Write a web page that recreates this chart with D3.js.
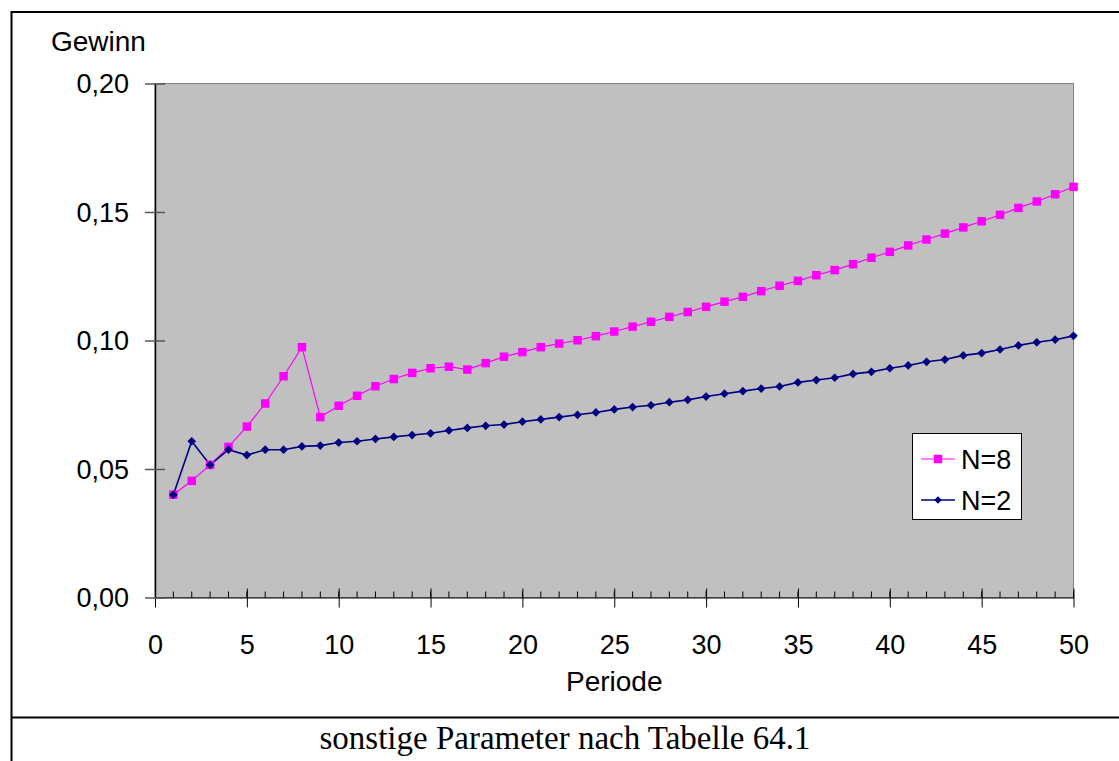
<!DOCTYPE html>
<html>
<head>
<meta charset="utf-8">
<script src="https://cdn.jsdelivr.net/npm/d3@7"></script>
<style>
  html, body { margin: 0; padding: 0; background: #fff; }
  svg { display: block; }
  .lbl { font-family: "Liberation Sans", Arial, sans-serif; font-size: 27px; fill: #000; }
  .ttl { font-family: "Liberation Sans", Arial, sans-serif; font-size: 28px; fill: #000; }
  .cap { font-family: "Liberation Serif", "Times New Roman", serif; font-size: 33px; fill: #000; }
</style>
</head>
<body>
<svg id="chart" width="1119" height="761"></svg>
<script>
// periods 1..50
var periods = d3.range(1, 51);

// Gewinn, N=8 (magenta squares)
var gewinnN8 = [
  0.040, 0.0454, 0.0516, 0.0586, 0.0665, 0.0755, 0.0861, 0.0974, 0.0702, 0.0746,
  0.0785, 0.0822, 0.0850, 0.0874, 0.0892, 0.0898, 0.0887, 0.0912, 0.0937, 0.0955,
  0.0974, 0.0988, 0.1001, 0.1017, 0.1035, 0.1054, 0.1073, 0.1092, 0.1111, 0.1131,
  0.1151, 0.1170, 0.1192, 0.1213, 0.1232, 0.1254, 0.1274, 0.1297, 0.1322, 0.1345,
  0.1370, 0.1393, 0.1416, 0.1440, 0.1464, 0.1489, 0.1516, 0.1541, 0.1569, 0.1598
];

// Gewinn, N=2 (navy diamonds)
var gewinnN2 = [
  0.040, 0.0608, 0.0516, 0.0575, 0.0554, 0.0575, 0.0575, 0.0588, 0.0591, 0.0603,
  0.0608, 0.0617, 0.0625, 0.0632, 0.0639, 0.0650, 0.0660, 0.0668, 0.0673, 0.0684,
  0.0693, 0.0702, 0.0711, 0.0720, 0.0732, 0.0741, 0.0748, 0.0760, 0.0769, 0.0782,
  0.0793, 0.0803, 0.0813, 0.0821, 0.0837, 0.0846, 0.0855, 0.0870, 0.0878, 0.0892,
  0.0903, 0.0917, 0.0926, 0.0942, 0.0951, 0.0965, 0.0981, 0.0993, 0.1003, 0.1018
];

var yTicks = [0, 0.05, 0.10, 0.15, 0.20];
var xTicks = d3.range(0, 51, 5);
var seriesNames = ["N=8", "N=2"];
var caption = "sonstige Parameter nach Tabelle 64.1";

var svg = d3.select("#chart");
var plot = { left: 155, top: 83.5, right: 1073.5, bottom: 597.5 };

var x = d3.scaleLinear().domain([0, 50]).range([plot.left, plot.right]);
var y = d3.scaleLinear().domain([0, 0.2]).range([plot.bottom, plot.top]);
var fmt = function(v) { return d3.format(".2f")(v).replace(".", ","); };

// outer frame (left + top), separator above caption
svg.append("line").attr("x1", 11.5).attr("x2", 11.5).attr("y1", 11).attr("y2", 761)
  .attr("stroke", "#000").attr("stroke-width", 2);
svg.append("line").attr("x1", 11).attr("x2", 1119).attr("y1", 12).attr("y2", 12)
  .attr("stroke", "#000").attr("stroke-width", 2);
svg.append("line").attr("x1", 11).attr("x2", 1119).attr("y1", 717.5).attr("y2", 717.5)
  .attr("stroke", "#000").attr("stroke-width", 2);

// plot area
svg.append("rect")
  .attr("x", plot.left).attr("y", plot.top)
  .attr("width", plot.right - plot.left).attr("height", plot.bottom - plot.top)
  .attr("fill", "#c0c0c0").attr("stroke", "#808080").attr("stroke-width", 1);

// x axis minor ticks
svg.append("g").selectAll("line").data(periods).enter().append("line")
  .attr("x1", function(d) { return x(d); }).attr("x2", function(d) { return x(d); })
  .attr("y1", plot.bottom - 6).attr("y2", plot.bottom)
  .attr("stroke", "#000").attr("stroke-width", 1);

// x axis
var xAxis = d3.axisBottom(x).tickValues(xTicks).tickSize(0).tickPadding(0);
var gx = svg.append("g").attr("transform", "translate(0," + plot.bottom + ")").call(xAxis);
gx.select(".domain").attr("stroke", "#000").attr("stroke-width", 1);
gx.selectAll(".tick line").remove();
gx.selectAll(".tick").append("line")
  .attr("y1", -9).attr("y2", 10).attr("stroke", "#000").attr("stroke-width", 1);
gx.selectAll(".tick text").attr("class", "lbl").attr("font-size", null).attr("font-family", null)
  .attr("dy", null).attr("y", 56).style("text-anchor", "middle");

// y axis
var yAxis = d3.axisLeft(y).tickValues(yTicks).tickFormat(fmt).tickSize(0).tickPadding(0);
var gy = svg.append("g").attr("transform", "translate(" + plot.left + ",0)").call(yAxis);
gy.select(".domain").attr("stroke", "#000").attr("stroke-width", 1.5);
gy.selectAll(".tick line").remove();
gy.selectAll(".tick").append("line")
  .attr("x1", -10).attr("x2", 10).attr("stroke", "#555").attr("stroke-width", 1.5);
gy.selectAll(".tick text").attr("class", "lbl").attr("font-size", null).attr("font-family", null)
  .attr("dy", "0.35em").attr("x", -26).style("text-anchor", "end");

// axis titles
svg.append("text").attr("class", "ttl").attr("x", 51).attr("y", 51).text("Gewinn");
svg.append("text").attr("class", "ttl").attr("x", x(25)).attr("y", 691)
  .attr("text-anchor", "middle").text("Periode");

// lines
var line = d3.line().x(function(d) { return x(d[0]); }).y(function(d) { return y(d[1]); });
var n8 = periods.map(function(p, i) { return [p, gewinnN8[i]]; });
var n2 = periods.map(function(p, i) { return [p, gewinnN2[i]]; });

svg.append("path").datum(n8).attr("d", line)
  .attr("fill", "none").attr("stroke", "#ff00ff").attr("stroke-width", 1.2);
svg.append("path").datum(n2).attr("d", line)
  .attr("fill", "none").attr("stroke", "#000080").attr("stroke-width", 1.6);

var sq = d3.symbol().type(d3.symbolSquare).size(72);
var dia = d3.symbol().type(d3.symbolSquare).size(38); // rotated 45deg below

svg.append("g").selectAll("path").data(n8).enter().append("path")
  .attr("d", sq)
  .attr("transform", function(d) { return "translate(" + x(d[0]) + "," + y(d[1]) + ")"; })
  .attr("fill", "#ff00ff");
svg.append("g").selectAll("path").data(n2).enter().append("path")
  .attr("d", dia)
  .attr("transform", function(d) { return "translate(" + x(d[0]) + "," + y(d[1]) + ") rotate(45)"; })
  .attr("fill", "#000080");

// legend
var leg = svg.append("g");
leg.append("rect").attr("x", 912.5).attr("y", 433.5).attr("width", 109).attr("height", 86)
  .attr("fill", "#fff").attr("stroke", "#000").attr("stroke-width", 1);
var legColors = ["#ff00ff", "#000080"];
var legSyms = [sq, d3.symbol().type(d3.symbolSquare).size(30)];
seriesNames.forEach(function(name, i) {
  var ly = 459 + i * 41;
  leg.append("line").attr("x1", 921).attr("x2", 955).attr("y1", ly).attr("y2", ly)
    .attr("stroke", legColors[i]).attr("stroke-width", i ? 1.6 : 1.2);
  leg.append("path").attr("d", legSyms[i])
    .attr("transform", "translate(938," + ly + ")" + (i ? " rotate(45)" : ""))
    .attr("fill", legColors[i]);
  leg.append("text").attr("class", "lbl").attr("x", 961).attr("y", ly + 9.5).text(name);
});

// caption
svg.append("text").attr("class", "cap").attr("x", 565).attr("y", 749)
  .attr("text-anchor", "middle").text(caption);
</script>
</body>
</html>
